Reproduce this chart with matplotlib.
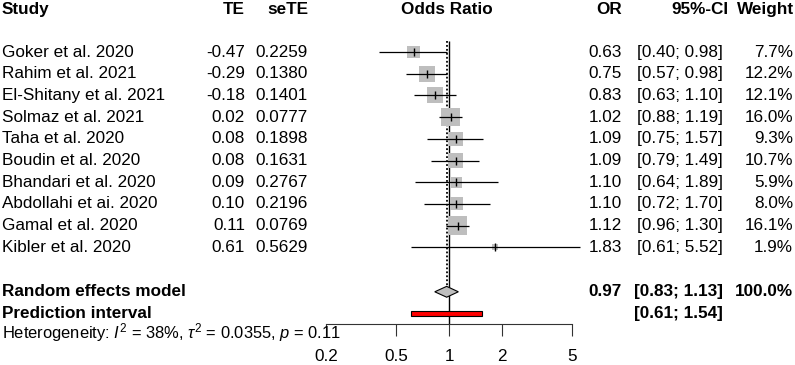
import matplotlib
matplotlib.use("Agg")
import matplotlib.pyplot     as plt
import matplotlib.transforms as mtransforms


STUDIES   = ["Goker et al. 2020", "Rahim et al. 2021", "El-Shitany et al. 2021",
             "Solmaz et al. 2021", "Taha et al. 2020", "Boudin et al. 2020",
             "Bhandari et al. 2020", "Abdollahi et ai. 2020", "Gamal et al. 2020",
             "Kibler et al. 2020"]
TE        = [-0.47, -0.29, -0.18, 0.02, 0.08, 0.08, 0.09, 0.10, 0.11, 0.61]
SETE      = [0.2259, 0.1380, 0.1401, 0.0777, 0.1898, 0.1631, 0.2767, 0.2196, 0.0769, 0.5629]
OR        = [0.63, 0.75, 0.83, 1.02, 1.09, 1.09, 1.10, 1.10, 1.12, 1.83]
CI_LOW    = [0.40, 0.57, 0.63, 0.88, 0.75, 0.79, 0.64, 0.72, 0.96, 0.61]
CI_HIGH   = [0.98, 0.98, 1.10, 1.19, 1.57, 1.49, 1.89, 1.70, 1.30, 5.52]
WEIGHTS   = [7.7, 12.2, 12.1, 16.0, 9.3, 10.7, 5.9, 8.0, 16.1, 1.9]

RE_OR     = 0.97
RE_CI     = [0.83, 1.13]
PI_CI     = [0.61, 1.54]
I2        = 38
TAU2      = 0.0355
P_HET     = 0.11

X_TICKS   = [0.2, 0.5, 1, 2, 5]
X_LABELS  = ["0.2", "0.5", "1", "2", "5"]

W, H      = 795, 365
FS        = 12.3

plt.rcParams["font.family"]       = ["Liberation Sans", "DejaVu Sans"]
plt.rcParams["mathtext.fontset"]  = "custom"
plt.rcParams["mathtext.rm"]       = "Liberation Sans"
plt.rcParams["mathtext.it"]       = "Liberation Sans:italic"


def px(x):
  # pixel -> figure fraction (horizontal)
  return x / W


fig = plt.figure(figsize=(W / 100, H / 100), dpi=100)

# forest plot axes: 0.2 at x=326 px, 5 at x=572 px, full height
ax = fig.add_axes([px(326), 0, px(572 - 326), 1])
ax.set_xscale("log")
ax.set_xlim(0.2, 5)
# row r sits at pixel y = 52 + 21.7 * r
ax.set_ylim((H - 52) / 21.7, -52 / 21.7)

rows    = list(range(len(STUDIES)))
re_row  = 11.05
pi_row  = 12.05
het_row = 12.95
axis_y  = 12.55
head_y  = -1.95

# reference lines
ax.vlines(1, -0.52, axis_y, color="black", lw=1)
ax.vlines(RE_OR, -0.52, re_row - 0.25, color="black", lw=1.3,
          linestyles=(0, (1, 1.2)))

# studies
ax.hlines(rows, CI_LOW, CI_HIGH, color="black", lw=0.9, clip_on=False, zorder=3)
sides = [4.6 * w ** 0.5 * 0.72 for w in WEIGHTS]
ax.scatter(OR, rows, marker="s", s=[s ** 2 for s in sides], color="#BEBEBE",
           linewidths=0, zorder=2)
ax.plot(OR, rows, marker="|", markersize=6, mew=1, color="black",
        linestyle="none", zorder=4)

# random effects diamond
h = 0.25
ax.fill([RE_CI[0], RE_OR, RE_CI[1], RE_OR], [re_row, re_row - h, re_row, re_row + h],
        facecolor="#BEBEBE", edgecolor="black", lw=0.8, zorder=3)

# prediction interval
h = 0.1
ax.fill([PI_CI[0], PI_CI[1], PI_CI[1], PI_CI[0]],
        [pi_row - h, pi_row - h, pi_row + h, pi_row + h],
        facecolor="red", edgecolor="black", lw=0.8, zorder=3)

# x axis
for side in ["top", "left", "right"]:
  ax.spines[side].set_visible(False)
ax.spines["bottom"].set_position(("data", axis_y))
ax.spines["bottom"].set_bounds(0.2, 5)
ax.spines["bottom"].set_color("#333333")
ax.set_xticks(X_TICKS)
ax.set_xticklabels(X_LABELS)
ax.xaxis.set_minor_locator(matplotlib.ticker.NullLocator())
ax.tick_params(axis="x", length=8.5, pad=9, labelsize=FS, color="#333333")
ax.set_yticks([])
ax.patch.set_visible(False)

# text columns
tr = mtransforms.blended_transform_factory(fig.transFigure, ax.transData)


def txt(x, y, s, ha="left", bold=False, size=FS):
  ax.text(px(x), y, s, transform=tr, ha=ha, va="center", fontsize=size,
          fontweight="bold" if bold else "normal", clip_on=False)


txt(2, head_y, "Study", bold=True)
txt(245, head_y, "TE", ha="right", bold=True)
txt(308, head_y, "seTE", ha="right", bold=True)
txt(447, head_y, "Odds Ratio", ha="center", bold=True)
txt(622, head_y, "OR", ha="right", bold=True)
txt(729, head_y, "95%-CI", ha="right", bold=True)
txt(794, head_y, "Weight", ha="right", bold=True)

for i in rows:
  txt(2, i, STUDIES[i])
  txt(245, i, f"{TE[i]:.2f}", ha="right")
  txt(308, i, f"{SETE[i]:.4f}", ha="right")
  txt(622, i, f"{OR[i]:.2f}", ha="right")
  txt(723, i, f"[{CI_LOW[i]:.2f}; {CI_HIGH[i]:.2f}]", ha="right")
  txt(793, i, f"{WEIGHTS[i]:.1f}%", ha="right")

txt(2, re_row, "Random effects model", bold=True)
txt(622, re_row, f"{RE_OR:.2f}", ha="right", bold=True)
txt(723, re_row, f"[{RE_CI[0]:.2f}; {RE_CI[1]:.2f}]", ha="right", bold=True)
txt(793, re_row, "100.0%", ha="right", bold=True)

txt(2, pi_row, "Prediction interval", bold=True)
txt(723, pi_row, f"[{PI_CI[0]:.2f}; {PI_CI[1]:.2f}]", ha="right", bold=True)

txt(2, het_row, f"Heterogeneity: $I^2$ = {I2}%, $\\tau^2$ = {TAU2:.4f}, $p$ = {P_HET:.2f}",
    size=11.9)

fig.savefig("out.png", dpi=100)
plt.close(fig)
